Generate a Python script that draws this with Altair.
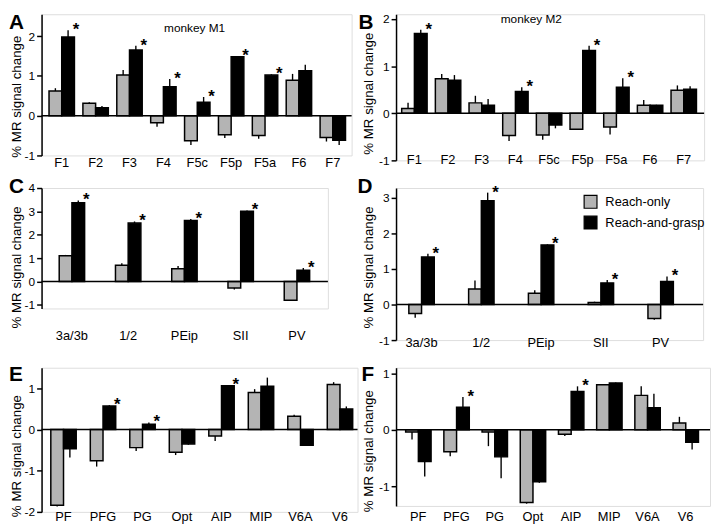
import altair as alt
import pandas as pd

FONT = "Liberation Sans"
SERIES = ["Reach-only", "Reach-and-grasp"]
COLORS = ["#b4b4b4", "#000000"]
Y_TITLE = "% MR signal change"
MONKEYS = ["monkey M1", "monkey M2"]

frontal = ["F1", "F2", "F3", "F4", "F5c", "F5p", "F5a", "F6", "F7"]
somato = ["3a/3b", "1/2", "PEip", "SII", "PV"]
parietal = ["PF", "PFG", "PG", "Opt", "AIP", "MIP", "V6A", "V6"]

# A: frontal, monkey M1
a_only = [0.62, 0.31, 1.02, -0.18, -0.63, -0.48, -0.50, 0.89, -0.55]
a_only_se = [0.07, 0.03, 0.13, 0.10, 0.11, 0.08, 0.08, 0.16, 0.10]
a_grasp = [1.98, 0.20, 1.65, 0.73, 0.34, 1.48, 1.02, 1.13, -0.62]
a_grasp_se = [0.17, 0.04, 0.11, 0.19, 0.13, 0.02, 0.02, 0.15, 0.12]
a_sig = ["F1", "F3", "F4", "F5c", "F5p", "F5a"]

# B: frontal, monkey M2
b_only = [0.10, 0.73, 0.22, -0.47, -0.46, -0.34, -0.29, 0.17, 0.49]
b_only_se = [0.12, 0.10, 0.15, 0.12, 0.10, 0.01, 0.16, 0.11, 0.10]
b_grasp = [1.69, 0.70, 0.17, 0.46, -0.25, 1.33, 0.55, 0.17, 0.51]
b_grasp_se = [0.08, 0.11, 0.13, 0.09, 0.07, 0.10, 0.19, 0.01, 0.06]
b_sig = ["F1", "F4", "F5p", "F5a"]

# C: somatosensory, monkey M1
c_only = [1.10, 0.70, 0.55, -0.27, -0.80]
c_only_se = [0.04, 0.08, 0.12, 0.07, 0.02]
c_grasp = [3.37, 2.50, 2.61, 3.01, 0.48]
c_grasp_se = [0.10, 0.07, 0.07, 0.03, 0.10]
c_sig = ["3a/3b", "1/2", "PEip", "SII", "PV"]

# D: somatosensory, monkey M2
d_only = [-0.25, 0.44, 0.32, 0.06, -0.39]
d_only_se = [0.12, 0.24, 0.08, 0.02, 0.04]
d_grasp = [1.34, 2.92, 1.68, 0.61, 0.65]
d_grasp_se = [0.09, 0.23, 0.02, 0.08, 0.14]
d_sig = ["3a/3b", "1/2", "PEip", "SII", "PV"]

# E: parietal, monkey M1
e_only = [-1.84, -0.76, -0.44, -0.55, -0.16, 0.90, 0.32, 1.09]
e_only_se = [0.03, 0.14, 0.08, 0.07, 0.12, 0.08, 0.04, 0.06]
e_grasp = [-0.47, 0.57, 0.13, -0.35, 1.06, 1.05, -0.38, 0.50]
e_grasp_se = [0.21, 0.02, 0.04, 0.02, 0.02, 0.21, 0.02, 0.06]
e_sig = ["PFG", "PG", "AIP"]

# F: parietal, monkey M2
f_only = [-0.04, -0.39, -0.04, -1.29, -0.08, 0.80, 0.61, 0.12]
f_only_se = [0.13, 0.08, 0.25, 0.02, 0.03, 0.01, 0.16, 0.11]
f_grasp = [-0.56, 0.40, -0.48, -0.92, 0.68, 0.83, 0.39, -0.22]
f_grasp_se = [0.27, 0.18, 0.38, 0.02, 0.09, 0.01, 0.25, 0.13]
f_sig = ["PFG", "AIP"]


def build(cats, only, only_se, grasp, grasp_se, sig):
    rows = []
    for i, c in enumerate(cats):
        for s, v, e in ((SERIES[0], only[i], only_se[i]), (SERIES[1], grasp[i], grasp_se[i])):
            tip = v + e if v >= 0 else v - e
            star = "*" if (s == SERIES[1] and c in sig) else ""
            rows.append({"cat": c, "series": s, "value": v, "tip": tip, "star": star})
    return pd.DataFrame(rows)


color = alt.Color("series:N", scale=alt.Scale(domain=SERIES, range=COLORS), legend=None)
xo = alt.XOffset("series:N", sort=SERIES)


def panel(letter, cats, only, only_se, grasp, grasp_se, sig, w, h, domain, ticks,
          pi, po, align, label_pad, title_x, title_y, letter_x, letter_y,
          monkey=None, monkey_x=0, monkey_y=0, legend=None):
    df = build(cats, only, only_se, grasp, grasp_se, sig)
    x_enc = alt.X("cat:N", sort=cats,
                  scale=alt.Scale(paddingInner=pi, paddingOuter=po, align=align),
                  axis=alt.Axis(title=None, domain=False, ticks=False, tickSize=0,
                                labelAngle=0, labelFontSize=13, labelPadding=label_pad,
                                labelFont=FONT, labelColor="black"))
    y_scale = alt.Scale(domain=domain, nice=False, zero=False)
    y_axis = alt.Axis(values=ticks, title=Y_TITLE, titleFont=FONT, titleFontSize=13.5,
                      titleFontWeight="normal", titleColor="black", titleAngle=270,
                      titleX=title_x, titleY=title_y, titleBaseline="middle",
                      titleAlign="center", tickSize=5, tickWidth=1.5, tickColor="black",
                      domainWidth=1.5, domainColor="black", labelFontSize=12,
                      labelFont=FONT, labelColor="black", labelPadding=2, grid=False,
                      labelExpr="'' + datum.value")

    def yq(field):
        return alt.Y(f"{field}:Q", scale=y_scale, axis=y_axis)

    bars = alt.Chart(df).mark_bar(stroke="black", strokeWidth=1.5).encode(
        x=x_enc, xOffset=xo, y=yq("value"), y2=alt.datum(0), color=color)
    err = alt.Chart(df).mark_rule(color="black", strokeWidth=1.4).encode(
        x=x_enc, xOffset=xo, y=yq("value"), y2="tip:Q")
    zero = alt.Chart(pd.DataFrame({"value": [0]})).mark_rule(
        color="black", strokeWidth=1.6).encode(y=yq("value"))
    stars = alt.Chart(df).transform_filter("datum.star != ''").mark_text(
        fontSize=17, fontWeight="bold", dx=8, baseline="middle", font=FONT,
        color="black").encode(x=x_enc, xOffset=xo, y=yq("tip"), text="star:N")
    let = alt.Chart(pd.DataFrame({"t": [letter]})).mark_text(
        fontSize=21, fontWeight="bold", align="left", baseline="alphabetic",
        font=FONT, color="black").encode(x=alt.value(letter_x), y=alt.value(letter_y),
                                          text="t:N")
    layers = [bars, err, zero, stars, let]
    if monkey is not None:
        layers.append(alt.Chart(pd.DataFrame({"t": [monkey]})).mark_text(
            fontSize=12, align="center", baseline="middle", font=FONT,
            color="black").encode(x=alt.value(monkey_x), y=alt.value(monkey_y),
                                  text="t:N"))
    if legend is not None:
        lx, ly0, ly1 = legend
        ldf = pd.DataFrame({"series": SERIES})
        for s, ly in ((SERIES[0], ly0), (SERIES[1], ly1)):
            sub = alt.Chart(ldf).transform_filter(alt.datum.series == s)
            layers.append(sub.mark_square(size=169, stroke="black", strokeWidth=1.2,
                                          opacity=1).encode(
                x=alt.value(lx), y=alt.value(ly), color=color))
            layers.append(sub.mark_text(fontSize=13, align="left", baseline="middle",
                                        font=FONT, color="black").encode(
                x=alt.value(lx + 15), y=alt.value(ly), text="series:N"))
    return alt.layer(*layers).properties(width=w, height=h)


A = panel("A", frontal, a_only, a_only_se, a_grasp, a_grasp_se, a_sig,
          w=314, h=143, domain=[-1, 2.55], ticks=[-1, 0, 1, 2],
          pi=0.25, po=0.2, align=0.55, label_pad=1, title_x=-25, title_y=83,
          letter_x=-33, letter_y=15, monkey=MONKEYS[0], monkey_x=155, monkey_y=14)
B = panel("B", frontal, b_only, b_only_se, b_grasp, b_grasp_se, b_sig,
          w=312, h=148, domain=[-1, 2.1], ticks=[-1, 0, 1, 2],
          pi=0.25, po=0.2, align=0.42, label_pad=-7, title_x=-28, title_y=80,
          letter_x=-38, letter_y=15, monkey=MONKEYS[1], monkey_x=137, monkey_y=5)
C = panel("C", somato, c_only, c_only_se, c_grasp, c_grasp_se, c_sig,
          w=290, h=122, domain=[-1.15, 4], ticks=[-1, 0, 1, 2, 3, 4],
          pi=0.55, po=0.32, align=0.49, label_pad=21, title_x=-25, title_y=80,
          letter_x=-33, letter_y=5)
D = panel("D", somato, d_only, d_only_se, d_grasp, d_grasp_se, d_sig,
          w=311, h=154, domain=[-1, 3.28], ticks=[-1, 0, 1, 2, 3],
          pi=0.577, po=0.357, align=0.3, label_pad=-3, title_x=-28, title_y=80,
          letter_x=-39, letter_y=5, legend=(197, 14, 35))
E = panel("E", parietal, e_only, e_only_se, e_grasp, e_grasp_se, e_sig,
          w=320, h=146, domain=[-2, 1.5], ticks=[-2, -1, 0, 1],
          pi=0.36, po=0.18, align=0.65, label_pad=-1, title_x=-25, title_y=89,
          letter_x=-33, letter_y=13)
F = panel("F", parietal, f_only, f_only_se, f_grasp, f_grasp_se, f_sig,
          w=318, h=140, domain=[-1.35, 1.1], ticks=[-1, 0, 1],
          pi=0.34, po=0.28, align=0.45, label_pad=5, title_x=-28, title_y=84,
          letter_x=-35, letter_y=13)

chart = alt.concat(A, B, C, D, E, F, columns=2,
                   spacing={"row": 28, "column": 39},
                   bounds="flush", align="each").properties(
    padding=0, background="white").configure_view(stroke=None).configure(font=FONT)

chart.save("out.html", embed_options={"renderer": "svg", "actions": False})
